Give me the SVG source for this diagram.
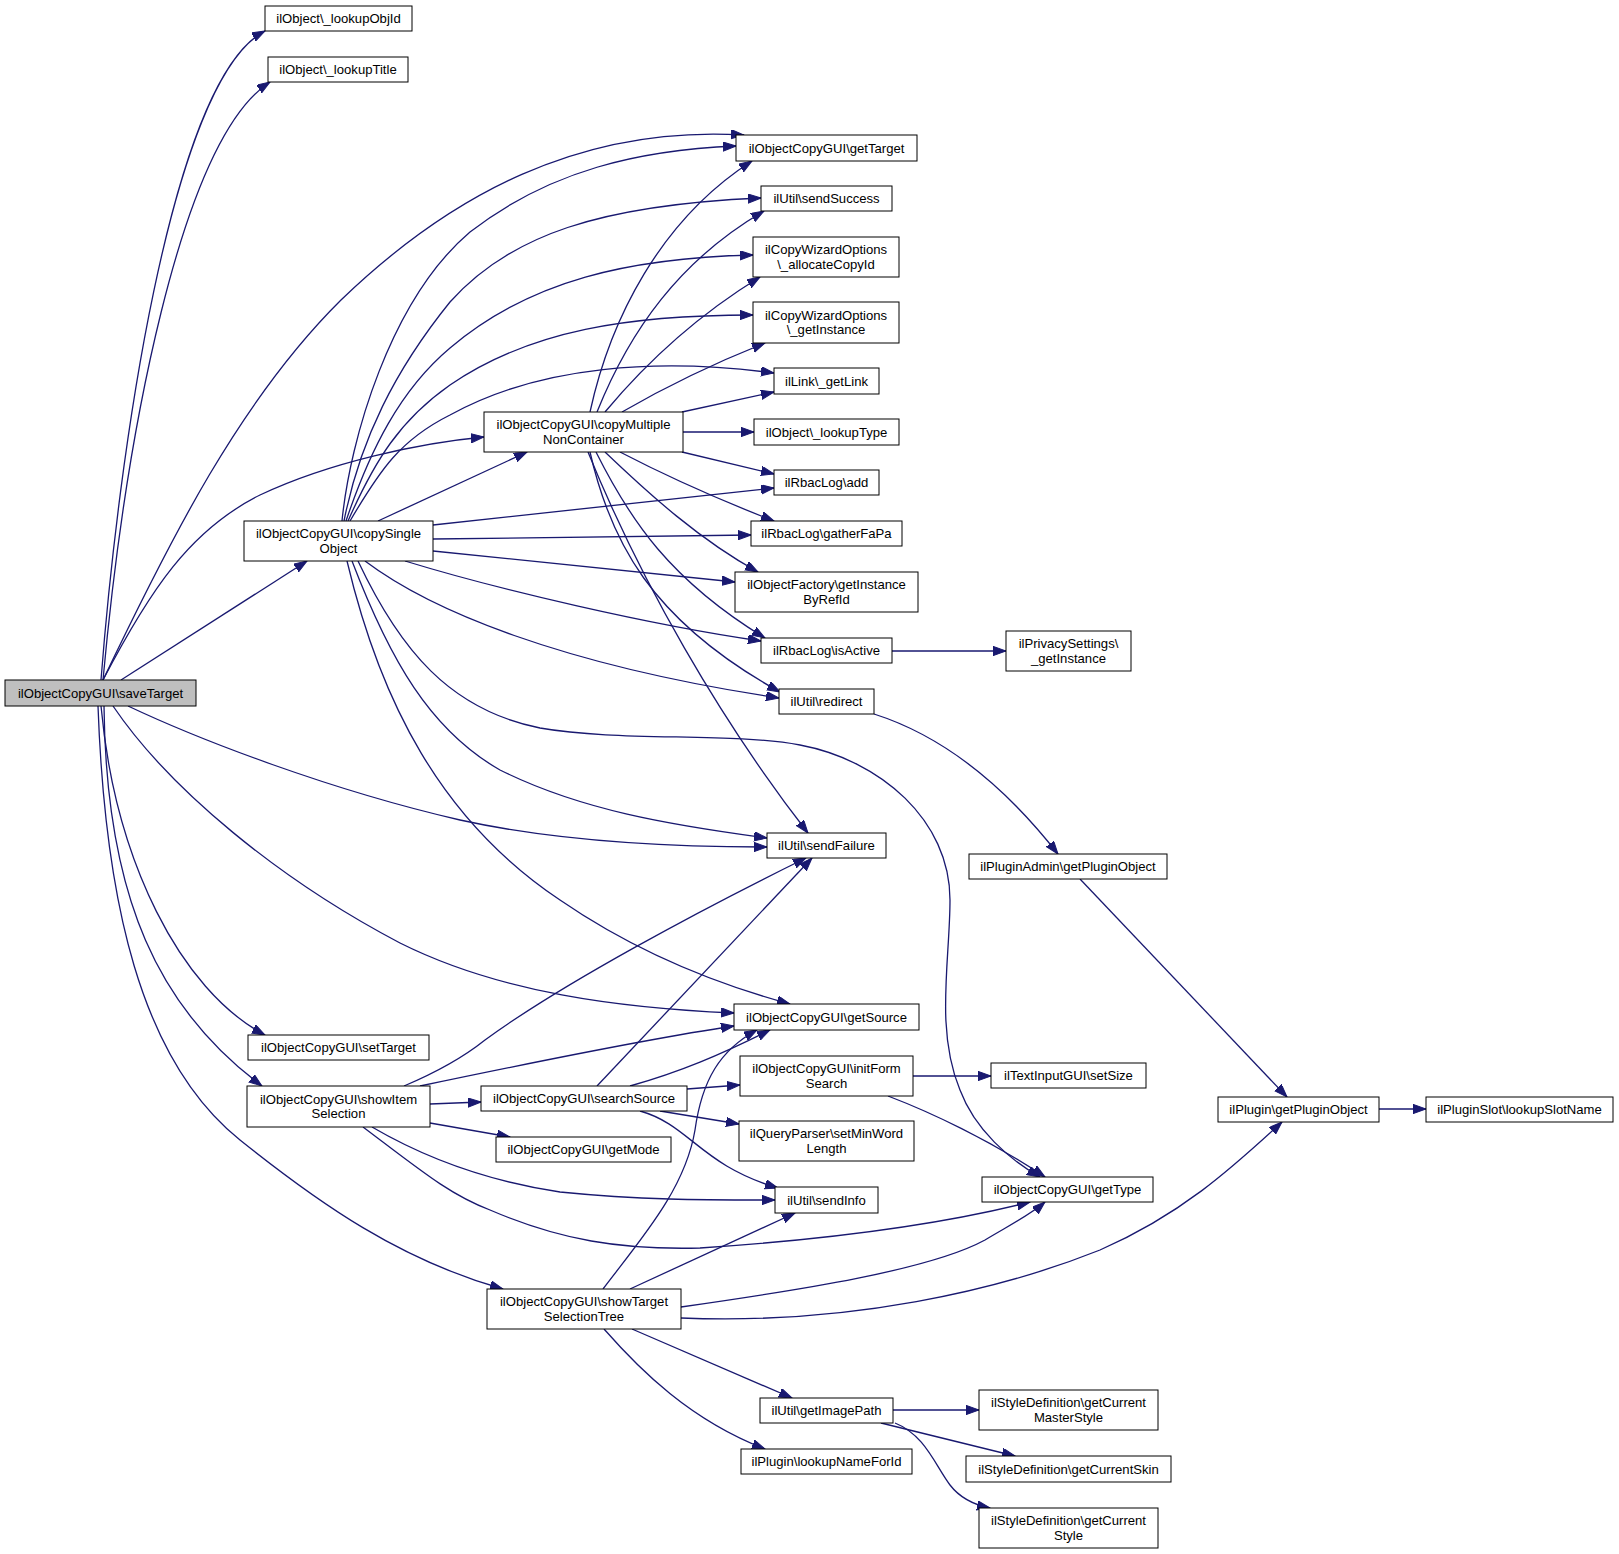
<svg xmlns="http://www.w3.org/2000/svg" width="1619" height="1554" viewBox="0 0 1619 1554">
<defs>
<style>
.n rect{fill:#fff;stroke:#000;stroke-width:1}
.n.root rect{fill:#bfbfbf}
.n text{font-family:"Liberation Sans",Arial,sans-serif;font-size:13.1px;text-anchor:middle;fill:#000}
.e path{fill:none;stroke:#191970;stroke-width:1.3;marker-end:url(#arr)}
</style>
<marker id="arr" markerUnits="userSpaceOnUse" markerWidth="14" markerHeight="10" refX="13" refY="4.65" orient="auto">
<path d="M0,0 L13,4.65 L0,9.3 z" fill="#191970" stroke="#191970" stroke-width="1"/>
</marker>
</defs>
<rect width="1619" height="1554" fill="#fff"/>
<g id="connectors" class="e">
<path d="M101,680 C118,460 170,80 265,31"/>
<path d="M103,680 C125,440 180,140 270,82"/>
<path d="M103,680 C170,540 240,400 341,300 C450,195 580,125 744,135"/>
<path d="M103,680 C150,590 190,530 260,495 C330,462 420,443 484,437"/>
<path d="M121,680 L307,561"/>
<path d="M128,706 C200,740 330,790 460,820 C560,842 680,847 767,847"/>
<path d="M113,706 C170,790 280,880 400,943 C500,993 620,1008 734,1013"/>
<path d="M101,706 C115,860 180,990 265,1035"/>
<path d="M104,706 C106,900 160,1010 262,1086"/>
<path d="M98,706 C105,900 140,1060 240,1140 C320,1204 400,1260 503,1289"/>
<path d="M342,521 C350,440 390,300 470,232 C550,170 640,150 736,146"/>
<path d="M344,521 C360,440 395,370 450,302 C510,235 600,205 761,198"/>
<path d="M346,521 C370,450 400,390 450,348 C530,280 630,258 753,255"/>
<path d="M348,521 C375,460 400,420 450,385 C530,330 630,315 753,315"/>
<path d="M350,521 C380,470 400,440 450,415 C540,365 660,358 774,373"/>
<path d="M378,521 L527,452"/>
<path d="M433,525 L774,488"/>
<path d="M433,539 L751,535"/>
<path d="M433,551 L735,582"/>
<path d="M405,561 C500,590 650,625 761,641"/>
<path d="M365,561 C430,610 560,665 779,698"/>
<path d="M352,561 C390,660 430,730 500,770 C580,810 670,825 767,838"/>
<path d="M347,561 C380,700 440,820 560,900 C640,955 720,985 790,1004"/>
<path d="M358,561 C400,650 450,710 540,728 C620,742 730,732 800,745 C880,760 950,820 950,900 C950,960 935,1030 960,1090 C975,1130 1010,1160 1040,1177"/>
<path d="M590,412 C610,320 660,220 752,161"/>
<path d="M597,412 C630,330 680,260 764,211"/>
<path d="M605,412 C640,370 690,320 760,277"/>
<path d="M622,412 C660,390 710,365 765,343"/>
<path d="M682,412 L774,392"/>
<path d="M683,432 L754,432"/>
<path d="M682,452 L774,474"/>
<path d="M620,452 C670,478 720,500 774,521"/>
<path d="M605,452 C650,495 700,540 758,572"/>
<path d="M596,452 C630,520 670,580 765,638"/>
<path d="M590,452 C610,540 650,620 780,692"/>
<path d="M588,452 C640,580 720,720 808,833"/>
<path d="M892,651 L1006,651"/>
<path d="M874,714 C940,735 1000,780 1058,854"/>
<path d="M1080,879 L1287,1097"/>
<path d="M1379,1109 L1426,1109"/>
<path d="M404,1086 C430,1075 460,1060 485,1040 C560,985 700,910 806,858"/>
<path d="M420,1086 C520,1065 640,1040 734,1026"/>
<path d="M430,1104 L481,1102"/>
<path d="M430,1123 L510,1137"/>
<path d="M372,1127 C420,1155 480,1180 560,1192 C640,1200 700,1200 775,1200"/>
<path d="M363,1127 C420,1170 450,1195 490,1210 C560,1240 620,1250 700,1248 C820,1240 940,1225 1030,1202"/>
<path d="M597,1086 L812,858"/>
<path d="M630,1086 C680,1072 720,1055 770,1030"/>
<path d="M687,1089 L740,1085"/>
<path d="M660,1111 L739,1124"/>
<path d="M640,1111 C690,1125 700,1165 778,1188"/>
<path d="M913,1076 L991,1076"/>
<path d="M888,1096 C930,1112 990,1140 1045,1177"/>
<path d="M603,1289 C640,1240 685,1190 695,1130 C702,1080 720,1050 757,1030"/>
<path d="M630,1289 L795,1213"/>
<path d="M681,1307 C800,1290 930,1270 985,1240 C1010,1225 1030,1215 1045,1202"/>
<path d="M681,1318 C850,1325 1000,1290 1100,1250 C1180,1215 1230,1170 1282,1122"/>
<path d="M632,1329 L792,1398"/>
<path d="M604,1329 C640,1370 690,1420 765,1449"/>
<path d="M893,1410 L979,1410"/>
<path d="M881,1423 L1015,1456"/>
<path d="M895,1423 C925,1435 935,1465 950,1485 C960,1498 975,1505 990,1508"/>
</g>
<g id="n_lookupObjId" class="n"><rect x="265" y="6" width="147" height="25"/><text x="338.5" y="23.1">ilObject\_lookupObjId</text></g>
<g id="n_lookupTitle" class="n"><rect x="268" y="57" width="140" height="25"/><text x="338" y="74.1">ilObject\_lookupTitle</text></g>
<g id="n_getTarget" class="n"><rect x="736" y="135" width="181" height="26"/><text x="826.5" y="152.6">ilObjectCopyGUI\getTarget</text></g>
<g id="n_sendSuccess" class="n"><rect x="761" y="186" width="131" height="25"/><text x="826.5" y="203.1">ilUtil\sendSuccess</text></g>
<g id="n_allocateCopyId" class="n"><rect x="753" y="237" width="146" height="40"/><text x="826" y="254">ilCopyWizardOptions</text><text x="826" y="268.5">\_allocateCopyId</text></g>
<g id="n_getInstanceCW" class="n"><rect x="753" y="302" width="146" height="41"/><text x="826" y="319.5">ilCopyWizardOptions</text><text x="826" y="334">\_getInstance</text></g>
<g id="n_getLink" class="n"><rect x="774" y="368" width="105" height="26"/><text x="826.5" y="385.6">ilLink\_getLink</text></g>
<g id="n_lookupType" class="n"><rect x="754" y="419" width="145" height="26"/><text x="826.5" y="436.6">ilObject\_lookupType</text></g>
<g id="n_copyMultiple" class="n"><rect x="484" y="412" width="199" height="40"/><text x="583.5" y="429">ilObjectCopyGUI\copyMultiple</text><text x="583.5" y="443.5">NonContainer</text></g>
<g id="n_add" class="n"><rect x="774" y="470" width="105" height="25"/><text x="826.5" y="487.1">ilRbacLog\add</text></g>
<g id="n_gatherFaPa" class="n"><rect x="751" y="521" width="151" height="25"/><text x="826.5" y="538.1">ilRbacLog\gatherFaPa</text></g>
<g id="n_getInstanceByRefId" class="n"><rect x="735" y="572" width="183" height="40"/><text x="826.5" y="589">ilObjectFactory\getInstance</text><text x="826.5" y="603.5">ByRefId</text></g>
<g id="n_isActive" class="n"><rect x="761" y="638" width="131" height="25"/><text x="826.5" y="655.1">ilRbacLog\isActive</text></g>
<g id="n_privacy" class="n"><rect x="1006" y="631" width="125" height="40"/><text x="1068.5" y="648">ilPrivacySettings\</text><text x="1068.5" y="662.5">_getInstance</text></g>
<g id="n_redirect" class="n"><rect x="779" y="689" width="95" height="25"/><text x="826.5" y="706.1">ilUtil\redirect</text></g>
<g id="n_sendFailure" class="n"><rect x="767" y="833" width="119" height="25"/><text x="826.5" y="850.1">ilUtil\sendFailure</text></g>
<g id="n_pluginAdmin" class="n"><rect x="969" y="854" width="198" height="25"/><text x="1068" y="871.1">ilPluginAdmin\getPluginObject</text></g>
<g id="n_saveTarget" class="n root"><rect x="5" y="680" width="191" height="26"/><text x="100.5" y="697.6">ilObjectCopyGUI\saveTarget</text></g>
<g id="n_copySingle" class="n"><rect x="244" y="521" width="189" height="40"/><text x="338.5" y="538">ilObjectCopyGUI\copySingle</text><text x="338.5" y="552.5">Object</text></g>
<g id="n_getSource" class="n"><rect x="734" y="1004" width="185" height="26"/><text x="826.5" y="1021.6">ilObjectCopyGUI\getSource</text></g>
<g id="n_setTarget" class="n"><rect x="248" y="1035" width="181" height="25"/><text x="338.5" y="1052.1">ilObjectCopyGUI\setTarget</text></g>
<g id="n_showItemSelection" class="n"><rect x="247" y="1086" width="183" height="41"/><text x="338.5" y="1103.5">ilObjectCopyGUI\showItem</text><text x="338.5" y="1118">Selection</text></g>
<g id="n_searchSource" class="n"><rect x="481" y="1086" width="206" height="25"/><text x="584" y="1103.1">ilObjectCopyGUI\searchSource</text></g>
<g id="n_initFormSearch" class="n"><rect x="740" y="1056" width="173" height="40"/><text x="826.5" y="1073">ilObjectCopyGUI\initForm</text><text x="826.5" y="1087.5">Search</text></g>
<g id="n_setSize" class="n"><rect x="991" y="1063" width="155" height="25"/><text x="1068.5" y="1080.1">ilTextInputGUI\setSize</text></g>
<g id="n_getPluginObject" class="n"><rect x="1218" y="1097" width="161" height="25"/><text x="1298.5" y="1114.1">ilPlugin\getPluginObject</text></g>
<g id="n_lookupSlotName" class="n"><rect x="1426" y="1097" width="187" height="25"/><text x="1519.5" y="1114.1">ilPluginSlot\lookupSlotName</text></g>
<g id="n_getMode" class="n"><rect x="496" y="1137" width="175" height="25"/><text x="583.5" y="1154.1">ilObjectCopyGUI\getMode</text></g>
<g id="n_setMinWord" class="n"><rect x="739" y="1121" width="175" height="40"/><text x="826.5" y="1138">ilQueryParser\setMinWord</text><text x="826.5" y="1152.5">Length</text></g>
<g id="n_sendInfo" class="n"><rect x="775" y="1187" width="103" height="26"/><text x="826.5" y="1204.6">ilUtil\sendInfo</text></g>
<g id="n_getType" class="n"><rect x="982" y="1177" width="171" height="25"/><text x="1067.5" y="1194.1">ilObjectCopyGUI\getType</text></g>
<g id="n_showTargetSelectionTree" class="n"><rect x="487" y="1289" width="194" height="40"/><text x="584" y="1306">ilObjectCopyGUI\showTarget</text><text x="584" y="1320.5">SelectionTree</text></g>
<g id="n_getImagePath" class="n"><rect x="760" y="1398" width="133" height="25"/><text x="826.5" y="1415.1">ilUtil\getImagePath</text></g>
<g id="n_masterStyle" class="n"><rect x="979" y="1390" width="179" height="40"/><text x="1068.5" y="1407">ilStyleDefinition\getCurrent</text><text x="1068.5" y="1421.5">MasterStyle</text></g>
<g id="n_lookupNameForId" class="n"><rect x="741" y="1449" width="171" height="25"/><text x="826.5" y="1466.1">ilPlugin\lookupNameForId</text></g>
<g id="n_getCurrentSkin" class="n"><rect x="966" y="1456" width="205" height="26"/><text x="1068.5" y="1473.6">ilStyleDefinition\getCurrentSkin</text></g>
<g id="n_getCurrentStyle" class="n"><rect x="979" y="1508" width="179" height="40"/><text x="1068.5" y="1525">ilStyleDefinition\getCurrent</text><text x="1068.5" y="1539.5">Style</text></g>
</svg>
